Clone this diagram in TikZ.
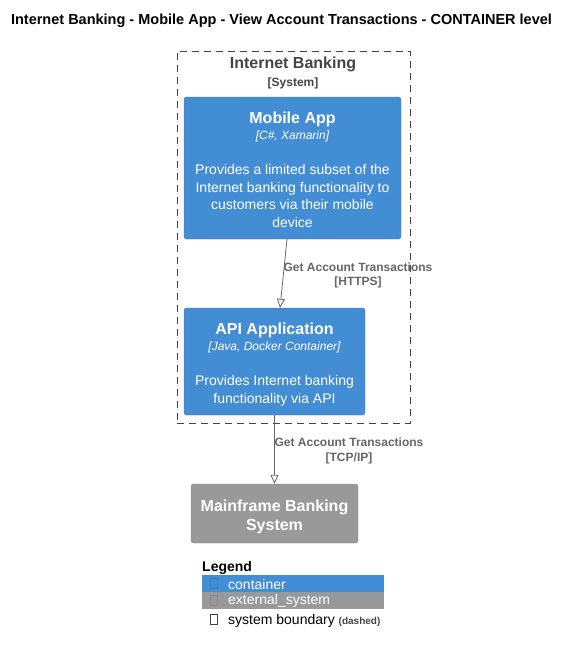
\documentclass[tikz,border=0pt]{standalone}
\usepackage{fontspec}
\setmainfont{Liberation Sans}
\usetikzlibrary{arrows.meta,positioning}
\definecolor{contblue}{HTML}{438DD5}
\definecolor{contedge}{HTML}{3C7FC0}
\definecolor{extgray}{HTML}{999999}
\definecolor{extedge}{HTML}{8A8A8A}
\definecolor{relgray}{HTML}{666666}
\definecolor{bndgray}{HTML}{444444}
\newcommand{\ctitle}[1]{{\fontsize{16}{19}\selectfont\bfseries #1}}
\newcommand{\ctech}[1]{{\fontsize{12}{14}\selectfont\itshape #1}}
\newcommand{\toppad}[1]{\rule{0pt}{#1}}

\begin{document}
\begin{tikzpicture}[x=1pt, y=-1pt,
  font=\fontsize{14}{17.5}\selectfont,
  container/.style={draw=contedge, fill=contblue, text=white, rounded corners=2.5pt,
    align=center, inner sep=0pt},
  extsys/.style={draw=extedge, fill=extgray, text=white, rounded corners=2.5pt,
    align=center, inner sep=0pt, font=\fontsize{16}{19.5}\selectfont\bfseries},
  rel/.style={draw=relgray, line width=0.8pt, -{Triangle[open, length=9pt, width=8pt]}},
  rellabel/.style={text=relgray, font=\fontsize{12}{14.5}\selectfont\bfseries,
    align=center, inner sep=0pt},
  legrow/.style={minimum width=182, minimum height=17, inner sep=0pt},
  glyph/.style={draw=#1, minimum width=7, minimum height=10, inner sep=0pt},
]
\useasboundingbox (0,0) rectangle (570,653);
\node[font=\fontsize{14.5}{17}\selectfont\bfseries] (title) at (281.5,20.5)
  {Internet Banking - Mobile App - View Account Transactions - CONTAINER level};

% system boundary
\node[draw=bndgray, line width=0.8pt, dash pattern=on 7pt off 5pt, minimum width=233,
  minimum height=372, inner sep=0pt] (ib) at (293.5,237) {};
\node[text=bndgray, align=center, inner sep=0pt] (iblabel) at (293,73)
  {\ctitle{Internet Banking}\\ {\fontsize{12}{14}\selectfont\bfseries [System]}};

% containers
\node[container, minimum width=217, minimum height=142] (mobile) at (292.5,168)
  {\toppad{15.2pt}\ctitle{Mobile App}\\[-2pt] \ctech{[C\#, Xamarin]}\\[18pt]
   Provides a limited subset of the\\ Internet banking functionality to\\
   customers via their mobile\\ device};
\node[container, minimum width=181, minimum height=107] (api) at (274.5,361.5)
  {\toppad{17.7pt}\ctitle{API Application}\\[-2pt] \ctech{[Java, Docker Container]}\\[18pt]
   Provides Internet banking\\ functionality via API};
\node[extsys, minimum width=167, minimum height=59] (mainframe) at (274.5,513.5)
  {\toppad{18.7pt}Mainframe Banking\\ System};

% relations
\draw[rel] ([xshift=-5.5]mobile.south) -- ([xshift=5.5]api.north);
\node[rellabel] (rel1) at (358,275.5) {Get Account Transactions\\ {[HTTPS]}};
\draw[rel] (api.south) -- (mainframe.north);
\node[rellabel] (rel2) at (349,451) {Get Account Transactions\\ {[TCP/IP]}};

% legend
\node[anchor=west, font=\fontsize{14}{17}\selectfont\bfseries, inner sep=0pt] (legend)
  at (202,568) {Legend};
\node[legrow, fill=contblue] (lgcont) at (293,583.5) {};
\node[legrow, fill=extgray] (lgext) at (293,600.5) {};
\node[glyph=contedge] (gcont) at (213.5,583.5) {};
\node[glyph=extedge] (gext) at (213.5,600.5) {};
\node[glyph=bndgray] (gbnd) at (213.5,619.5) {};
\node[anchor=west, text=white, inner sep=0pt] (tcont) at (228,584) {container};
\node[anchor=west, text=white, inner sep=0pt] (text) at (228,601) {external\_system};
\node[anchor=west, inner sep=0pt] (tbnd) at (228,620.5)
  {system boundary {\fontsize{10}{12}\selectfont\bfseries\color{bndgray}(dashed)}};
\end{tikzpicture}
\end{document}
